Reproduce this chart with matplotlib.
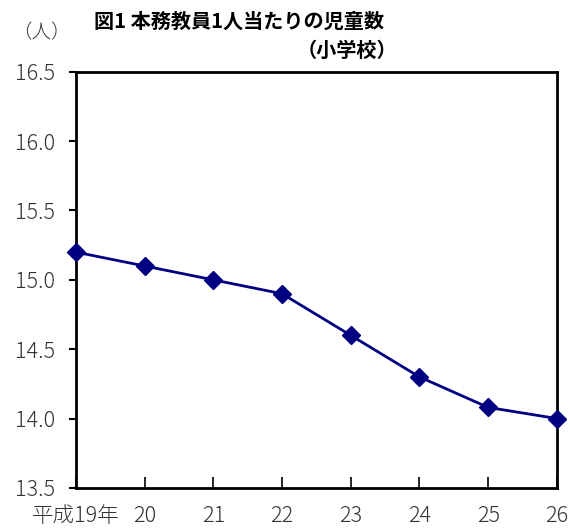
import matplotlib.pyplot as plt

plt.rcParams['font.family'] = ['Noto Sans CJK JP', 'DejaVu Sans']

years = ['平成19年', '20', '21', '22', '23', '24', '25', '26']
pupils_per_teacher = [15.2, 15.1, 15.0, 14.9, 14.6, 14.3, 14.08, 14.0]

fig = plt.figure(figsize=(5.7, 5.28), dpi=100)
ax = fig.add_axes([0.133, 0.076, 0.844, 0.788])

x = range(len(years))
ax.plot(x, pupils_per_teacher, color='#000080', linewidth=2,
        marker='D', markersize=9, clip_on=False, zorder=3)

ax.set_xlim(0, len(years) - 1)
ax.set_ylim(13.5, 16.5)
ax.set_yticks([13.5, 14.0, 14.5, 15.0, 15.5, 16.0, 16.5])
ax.set_yticklabels(['13.5', '14.0', '14.5', '15.0', '15.5', '16.0', '16.5'])
ax.set_xticks(list(x))
ax.set_xticklabels(years)

for side in ax.spines.values():
    side.set_linewidth(2)
    side.set_color('black')

ax.tick_params(axis='y', direction='out', length=5, width=1.5,
               labelsize=15.5, pad=10, labelcolor='#333333')
ax.tick_params(axis='x', direction='in', length=8, width=1.2,
               labelsize=15.5, pad=12, labelcolor='#333333')
for lbl in ax.get_xticklabels() + ax.get_yticklabels():
    lbl.set_fontweight('light')

fig.text(0.022, 0.938, '（人）', fontsize=14, color='#333333',
         va='center', fontweight='light')
fig.text(0.165, 0.96, '図1 本務教員1人当たりの児童数', fontsize=14.5,
         fontweight='bold', va='center')
fig.text(0.697, 0.905, '（小学校）', fontsize=14.5, fontweight='bold',
         va='center', ha='right')

fig.savefig('out.png', dpi=100)
